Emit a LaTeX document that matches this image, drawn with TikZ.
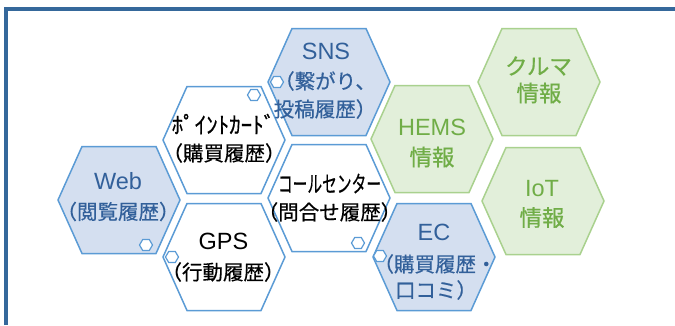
\documentclass[tikz,border=0pt]{standalone}
\usepackage{fontspec}
\usepackage{graphicx}
\setmainfont{Liberation Sans}
\newfontfamily\jp[AutoFakeBold=0.5]{Noto Sans CJK JP}
\definecolor{frameblue}{HTML}{35689B}
\definecolor{hexblue}{HTML}{5B9BD5}
\definecolor{hexbluefill}{HTML}{D4DFF0}
\definecolor{bluetext}{HTML}{32609A}
\definecolor{hexgreen}{HTML}{A9D18E}
\definecolor{hexgreenfill}{HTML}{E2EFDA}
\definecolor{greentext}{HTML}{70AD47}
\tikzset{
  bighex/.pic={\path[pic actions] (-61,0) -- (-37,-53.5) -- (37,-53.5) -- (61,0) -- (37,53.5) -- (-37,53.5) -- cycle;},
  smallhex/.pic={\path[pic actions] (-6.5,0) -- (-3.3,-5.5) -- (3.3,-5.5) -- (6.5,0) -- (3.3,5.5) -- (-3.3,5.5) -- cycle;},
  bluehex/.style={draw=hexblue, fill=hexbluefill, line width=1.5pt},
  whitehex/.style={draw=hexblue, fill=white, line width=1.5pt},
  greenhex/.style={draw=hexgreen, fill=hexgreenfill, line width=1.5pt},
  tinyhex/.style={draw=hexblue, fill=white, line width=1.2pt},
  txt/.style={inner sep=0pt, anchor=center},
  lat/.style={txt, font=\fontsize{23.5}{25}\selectfont},
  cjk/.style={txt, font=\jp\bfseries\fontsize{20.5}{22}\selectfont},
  cjkbig/.style={txt, font=\jp\bfseries\fontsize{22.5}{24}\selectfont},
  kana/.style={txt, font=\jp\bfseries\fontsize{23}{24}\selectfont},
  btext/.style={text=bluetext},
  gtext/.style={text=greentext},
  ktext/.style={text=black},
}
\begin{document}
\begin{tikzpicture}[x=1pt, y=-1pt]
\useasboundingbox (0,0) rectangle (675,325);
% frame
\draw[frameblue, line width=4pt] (6,325) -- (6,9) -- (675,9);
% big hexagons
\pic[bluehex]  (web)  at (119,200) {bighex};
\pic[whitehex] (pnt)  at (224,140) {bighex};
\pic[whitehex] (gps)  at (224,257) {bighex};
\pic[bluehex]  (sns)  at (329,82)  {bighex};
\pic[whitehex] (call) at (329,198) {bighex};
\pic[greenhex] (hems) at (432,139) {bighex};
\pic[bluehex]  (ec)   at (434,257) {bighex};
\pic[greenhex] (car)  at (539,82)  {bighex};
\pic[greenhex] (iot)  at (543,201) {bighex};
% small hexagons
\pic[tinyhex] (s1) at (146,245) {smallhex};
\pic[tinyhex] (s2) at (172,257) {smallhex};
\pic[tinyhex] (s3) at (254,95)  {smallhex};
\pic[tinyhex] (s4) at (277,82)  {smallhex};
\pic[tinyhex] (s5) at (358,243) {smallhex};
\pic[tinyhex] (s6) at (380,256) {smallhex};
% texts
\node[lat, btext] (webA) at (118,181.5) {Web};
\node[cjk, btext] (webB) at (118,211.5) {（閲覧履歴）};
\node[kana, ktext] (pntA) at (223.5,124) {ﾎﾟｲﾝﾄｶｰﾄﾞ};
\node[cjk, ktext] (pntB) at (224,153) {（購買履歴）};
\node[lat, ktext] (gpsA) at (223.5,241.5) {GPS};
\node[cjk, ktext] (gpsB) at (223,272) {（行動履歴）};
\node[lat, btext] (snsA) at (326,51.5) {SNS};
\node[cjk, btext] (snsB) at (325,81) {（繋がり、};
\node[cjk, btext] (snsC) at (325,109) {投稿履歴）};
\node[kana, ktext] (callA) at (329.5,183.5) {\scalebox{0.64}[1]{コールセンター}};
\node[cjk, ktext] (callB) at (329.5,212) {（問合せ履歴）};
\node[lat, gtext] (hemsA) at (432,127.5) {HEMS};
\node[cjkbig, gtext] (hemsB) at (432,157) {情報};
\node[lat, btext] (ecA) at (434,232) {EC};
\node[cjk, btext] (ecB) at (435,264) {（購買履歴・};
\node[cjk, btext] (ecC) at (436,290) {口コミ）};
\node[cjkbig, gtext] (carA) at (538.5,66) {クルマ};
\node[cjkbig, gtext] (carB) at (539,93) {情報};
\node[lat, gtext] (iotA) at (542,189) {IoT};
\node[cjkbig, gtext] (iotB) at (542,217.5) {情報};
\end{tikzpicture}
\end{document}
